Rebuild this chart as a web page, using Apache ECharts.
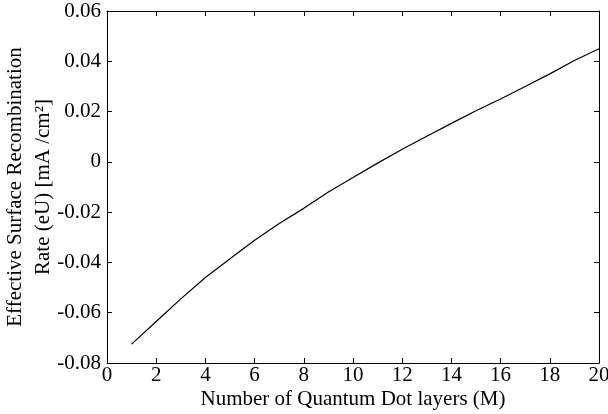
<!DOCTYPE html>
<html style="height: 100%">

<head>
  <meta charset="utf-8">
  <script src="https://cdn.jsdelivr.net/npm/echarts@6/dist/echarts.min.js"></script>
</head>

<body style="height: 100%; margin: 0">
  <div id="main" style="width: 608px; height: 414px"></div>

  <script type="text/javascript">
    // number of QD layers
    var layers = [1, 2, 3, 4, 5, 6, 7, 8, 9, 10, 11, 12, 13, 14, 15, 16, 17, 18, 19, 20];
    // effective surface recombination rate (eU)
    var rate = [-0.0725, -0.0635, -0.0545, -0.0460, -0.0385, -0.0312, -0.0245, -0.0185, -0.0120, -0.0062,
      -0.0005, 0.0050, 0.0102, 0.0153, 0.0203, 0.0250, 0.0300, 0.0350, 0.0403, 0.0450];
    var xTicks = [0, 2, 4, 6, 8, 10, 12, 14, 16, 18, 20];
    var yTicks = [-0.08, -0.06, -0.04, -0.02, 0, 0.02, 0.04, 0.06];

    var font = 'Liberation Serif';
    var myChart = echarts.init(document.getElementById('main'));

    var points = [];
    for (var i = 0; i < layers.length; i++) {
      points.push([layers[i], rate[i]]);
    }

    var tickStyle = { show: true, inside: true, length: 5, lineStyle: { color: '#000', width: 1 } };
    var lineStyle = { show: true, onZero: false, lineStyle: { color: '#000', width: 1 } };

    var option = {
      animation: false,
      backgroundColor: '#fff',
      grid: {
        left: 107,
        right: 9,
        top: 11,
        bottom: 51,
        containLabel: false,
        outerBoundsMode: 'none'
      },
      xAxis: [{
        type: 'value',
        min: xTicks[0],
        max: xTicks[xTicks.length - 1],
        interval: 2,
        axisLine: lineStyle,
        axisTick: tickStyle,
        splitLine: { show: false },
        axisLabel: { color: '#000', fontFamily: font, fontSize: 21, margin: 2 },
        name: 'Number of Quantum Dot layers (M)',
        nameLocation: 'middle',
        nameGap: 26,
        nameMoveOverlap: false,
        nameTextStyle: { color: '#000', fontFamily: font, fontSize: 21 }
      }, {
        type: 'value',
        position: 'top',
        min: xTicks[0],
        max: xTicks[xTicks.length - 1],
        interval: 2,
        axisLine: lineStyle,
        axisTick: tickStyle,
        axisLabel: { show: false },
        splitLine: { show: false }
      }],
      yAxis: [{
        type: 'value',
        min: yTicks[0],
        max: yTicks[yTicks.length - 1],
        interval: 0.02,
        axisLine: lineStyle,
        axisTick: tickStyle,
        splitLine: { show: false },
        axisLabel: {
          color: '#000', fontFamily: font, fontSize: 21, margin: 6,
          formatter: function (v) {
            return Math.abs(v) < 1e-9 ? '0' : v.toFixed(2);
          }
        },
        name: 'Effective Surface Recombination\nRate (eU) [mA /cm²]',
        nameLocation: 'middle',
        nameGap: 50,
        nameMoveOverlap: false,
        nameTextStyle: { color: '#000', fontFamily: font, fontSize: 21, lineHeight: 28 }
      }, {
        type: 'value',
        position: 'right',
        min: yTicks[0],
        max: yTicks[yTicks.length - 1],
        interval: 0.02,
        axisLine: lineStyle,
        axisTick: tickStyle,
        axisLabel: { show: false },
        splitLine: { show: false }
      }],
      series: [{
        type: 'line',
        data: points,
        showSymbol: false,
        lineStyle: { color: '#000', width: 1.2 }
      }]
    };
    myChart.setOption(option);
  </script>
</body>

</html>
